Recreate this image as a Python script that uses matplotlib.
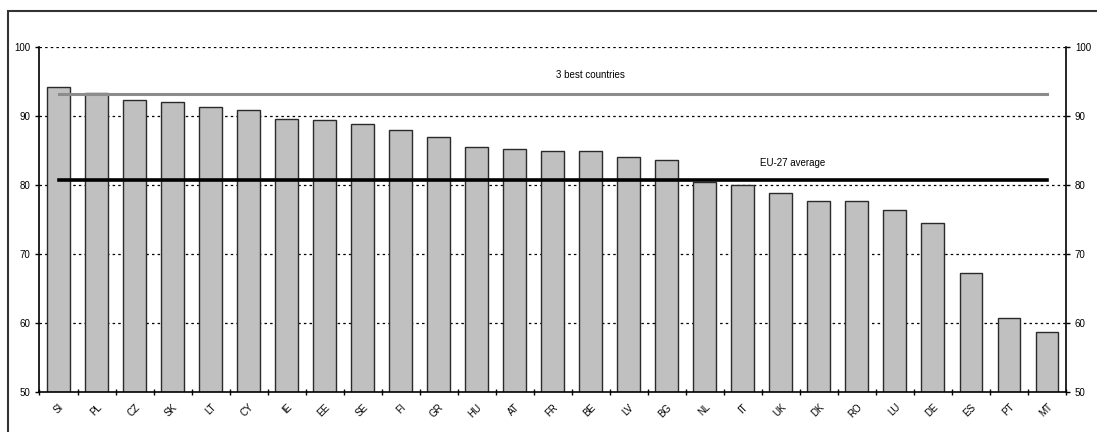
import numpy as np
import matplotlib.pyplot as plt
from matplotlib.patches import Rectangle
from matplotlib.ticker import FixedLocator

plt.rcParams['font.family'] = ['Liberation Sans', 'DejaVu Sans']

# data
countries = ['SI', 'PL', 'CZ', 'SK', 'LT', 'CY', 'IE', 'EE', 'SE', 'FI', 'GR', 'HU', 'AT', 'FR',
             'BE', 'LV', 'BG', 'NL', 'IT', 'UK', 'DK', 'RO', 'LU', 'DE', 'ES', 'PT', 'MT']
scores = [94.3, 93.4, 92.3, 92.0, 91.4, 90.9, 89.6, 89.5, 88.9, 88.0, 87.0, 85.5, 85.3, 84.9,
          84.9, 84.1, 83.6, 80.5, 80.0, 78.9, 77.7, 77.7, 76.4, 74.5, 67.3, 60.8, 58.7]
best3 = 93.3
eu_avg = 80.7
yticks = [50, 60, 70, 80, 90, 100]

x = np.arange(len(countries))

fig = plt.figure(figsize=(10.97, 4.32), dpi=100)
ax = fig.add_axes([0.036, 0.092, 0.9357, 0.7985])

# gridlines (dotted)
for v in yticks[1:]:
    ax.axhline(v, color='black', lw=0.9, ls=(0, (2, 2.5)), zorder=0)

ax.bar(x, scores, width=0.6, color='#c0c0c0', edgecolor='#2a2a2a', lw=1.0, zorder=2)

# reference lines
ax.plot([x[0], x[-1]], [best3, best3], color='#8c8c8c', lw=2.2, zorder=3)
ax.plot([x[0], x[-1]], [eu_avg, eu_avg], color='black', lw=2.6, zorder=3)
ax.text(14.0, 96.0, '3 best countries', fontsize=7, ha='center', va='center')
ax.text(19.3, 83.2, 'EU-27 average', fontsize=7, ha='center', va='center')

ax.set_xlim(-0.5, len(countries) - 0.5)
ax.set_ylim(50, 100)

ax.set_xticks(x)
ax.set_xticklabels(countries, rotation=45, ha='right', rotation_mode='anchor', fontsize=7)
ax.xaxis.set_minor_locator(FixedLocator(np.arange(-0.5, len(countries), 1.0)))
ax.tick_params(axis='x', which='major', length=0, pad=7)
ax.tick_params(axis='x', which='minor', length=5, direction='inout', width=1)

ax.set_yticks(yticks)
ax.tick_params(axis='y', which='major', length=3, direction='out', width=1,
               labelsize=7, left=True, right=True, labelleft=True, labelright=True)

ax.spines['top'].set_visible(False)
for s in ['left', 'right', 'bottom']:
    ax.spines[s].set_linewidth(1.2)

# outer frame of the chart object
fig.patches.append(Rectangle((8 / 1097, -0.1), 1.2, 1.1 - 11 / 432,
                             transform=fig.transFigure, fill=False,
                             edgecolor='#333333', lw=1.5))

fig.savefig('out.png', dpi=100)
